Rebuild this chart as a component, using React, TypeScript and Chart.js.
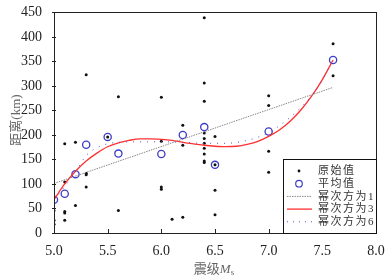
import React, { useEffect, useRef } from "react";
import { Chart, registerables } from "chart.js";

Chart.register(...registerables);

// Raw observations (magnitude, distance km)
const rawM = [5.0, 5.0, 5.0, 5.1, 5.1, 5.1, 5.1, 5.1, 5.2, 5.2, 5.3, 5.3, 5.3, 5.3, 5.5, 5.6, 5.6, 6.0, 6.0, 6.0, 6.0, 6.1, 6.2, 6.2, 6.2, 6.4, 6.4, 6.4, 6.4, 6.4, 6.4, 6.4, 6.4, 6.4, 6.4, 6.5, 6.5, 6.5, 6.5, 7.0, 7.0, 7.0, 7.0, 7.6, 7.6];
const rawD = [46, 26, 18, 182, 104, 44, 41, 26, 185, 56, 323, 122, 119, 94, 196, 278, 46, 277, 187, 94, 89, 28, 220, 179, 32, 439, 306, 269, 204, 193, 183, 173, 161, 147, 144, 197, 139, 87, 37, 280, 260, 167, 124, 386, 321];

// Mean values
const meanM = [5.0, 5.1, 5.2, 5.3, 5.5, 5.6, 6.0, 6.2, 6.4, 6.5, 7.0, 7.6];
const meanD = [68, 80, 120, 180, 196, 162, 161, 200, 216, 139, 207, 353];

// Fit curves
const fit1M = [5.0, 7.6];
const fit1D = [101, 297];

const fit3M = [5.0, 5.1, 5.2, 5.3, 5.4, 5.5, 5.6, 5.7, 5.8, 5.9, 6.0, 6.1, 6.2, 6.3, 6.4, 6.5, 6.6, 6.7, 6.8, 6.9, 7.0, 7.1, 7.2, 7.3, 7.4, 7.5, 7.6];
const fit3D = [68, 100, 126, 147, 163, 176, 184, 189, 192, 192, 191, 189, 185, 182, 179, 177, 176, 177, 181, 187, 197, 210, 228, 251, 279, 313, 353];

const fit6M = [5.0, 5.1, 5.2, 5.3, 5.4, 5.5, 5.6, 5.8, 6.0, 6.2, 6.4, 6.6, 6.8, 7.0, 7.2, 7.4, 7.5, 7.6];
const fit6D = [68, 95, 125, 158, 174, 182, 185, 186, 186, 185, 183, 183, 189, 205, 236, 280, 312, 353];

const xTicks = [5.0, 5.5, 6.0, 6.5, 7.0, 7.5, 8.0];
const yTicks = [0, 50, 100, 150, 200, 250, 300, 350, 400, 450];

const legendLabels = ["原始值", "平均值", "幂次方为1", "幂次方为3", "幂次方为6"];

const pts = (m: number[], d: number[]) => m.map((x, i) => ({ x, y: d[i] }));

const decoPlugin = {
  id: "deco",
  afterDatasetsDraw(chart: any) {
    const { ctx, chartArea: a, scales } = chart;
    const xs = scales.x;
    const ys = scales.y;
    ctx.save();
    ctx.strokeStyle = "#222";
    ctx.lineWidth = 1;
    ctx.strokeRect(Math.round(a.left) + 0.5, Math.round(a.top) + 0.5, Math.round(a.right - a.left), Math.round(a.bottom - a.top));
    ctx.beginPath();
    xTicks.forEach((t) => {
      const px = Math.round(xs.getPixelForValue(t)) + 0.5;
      ctx.moveTo(px, a.bottom);
      ctx.lineTo(px, a.bottom - 4);
    });
    yTicks.forEach((t) => {
      const py = Math.round(ys.getPixelForValue(t)) + 0.5;
      ctx.moveTo(a.left - 2, py);
      ctx.lineTo(a.left + 2, py);
    });
    ctx.stroke();

    // legend box
    const L = 283, T = 159, R = Math.round(a.right), B = Math.round(a.bottom);
    ctx.fillStyle = "#fff";
    ctx.fillRect(L, T, R - L, B - T);
    ctx.strokeStyle = "#111";
    ctx.strokeRect(L + 0.5, T + 0.5, R - L, B - T);
    const rows = [171, 183.7, 196.4, 209.1, 221.8];
    const sx = 299, lx0 = 287, lx1 = 312;
    ctx.fillStyle = "#111";
    ctx.beginPath();
    ctx.arc(sx, rows[0], 1.4, 0, Math.PI * 2);
    ctx.fill();
    ctx.strokeStyle = "#3c3cc8";
    ctx.lineWidth = 1.2;
    ctx.beginPath();
    ctx.arc(sx, rows[1], 3.3, 0, Math.PI * 2);
    ctx.stroke();
    ctx.strokeStyle = "#888";
    ctx.lineWidth = 1;
    ctx.setLineDash([1.5, 1]);
    ctx.beginPath();
    ctx.moveTo(lx0, rows[2]);
    ctx.lineTo(lx1, rows[2]);
    ctx.stroke();
    ctx.setLineDash([]);
    ctx.strokeStyle = "#ff3030";
    ctx.lineWidth = 1.3;
    ctx.beginPath();
    ctx.moveTo(lx0, rows[3]);
    ctx.lineTo(lx1, rows[3]);
    ctx.stroke();
    ctx.strokeStyle = "#5050c8";
    ctx.lineWidth = 1;
    ctx.setLineDash([1, 5]);
    ctx.beginPath();
    ctx.moveTo(lx0, rows[4]);
    ctx.lineTo(lx1, rows[4]);
    ctx.stroke();
    ctx.setLineDash([]);
    ctx.fillStyle = "#333";
    ctx.font = '11px "Liberation Serif", "Noto Sans CJK SC"';
    (ctx as any).letterSpacing = "1.5px";
    ctx.textAlign = "left";
    ctx.textBaseline = "middle";
    legendLabels.forEach((s, i) => ctx.fillText(s, 318, rows[i] + 0.5));
    (ctx as any).letterSpacing = "0px";
    ctx.restore();
  },
  afterDraw(chart: any) {
    const { ctx } = chart;
    ctx.save();
    ctx.fillStyle = "#666";
    ctx.textBaseline = "middle";
    const f1 = '13px "Liberation Serif", "Noto Sans CJK SC"';
    const f2 = 'italic 13px "Liberation Serif"';
    const f3 = '9px "Liberation Serif"';
    ctx.font = f1;
    const w1 = ctx.measureText("震级").width;
    ctx.font = f2;
    const w2 = ctx.measureText("M").width;
    ctx.font = f3;
    const w3 = ctx.measureText("s").width;
    let x = 214 - (w1 + w2 + w3) / 2;
    const y = 270;
    ctx.textAlign = "left";
    ctx.font = f1;
    ctx.fillText("震级", x, y);
    x += w1;
    ctx.font = f2;
    ctx.fillText("M", x, y);
    x += w2;
    ctx.font = f3;
    ctx.fillText("s", x, y + 3);
    ctx.translate(17, 120);
    ctx.rotate(-Math.PI / 2);
    ctx.textAlign = "center";
    ctx.font = f1;
    ctx.fillText("距离(km)", 0, 0);
    ctx.restore();
  },
};

export default function App() {
  const ref = useRef<HTMLCanvasElement | null>(null);
  useEffect(() => {
    if (!ref.current) return;
    const chart = new Chart(ref.current, {
      type: "scatter",
      data: {
        datasets: [
          {
            label: "幂次方为1",
            data: pts(fit1M, fit1D),
            showLine: true,
            borderColor: "#888",
            borderWidth: 1,
            borderDash: [1.5, 1],
            pointRadius: 0,
          },
          {
            label: "幂次方为6",
            data: pts(fit6M, fit6D),
            showLine: true,
            borderColor: "#5050c8",
            borderWidth: 1,
            borderDash: [1, 6],
            pointRadius: 0,
            cubicInterpolationMode: "monotone",
          },
          {
            label: "幂次方为3",
            data: pts(fit3M, fit3D),
            showLine: true,
            borderColor: "#ff3030",
            borderWidth: 1.3,
            pointRadius: 0,
            cubicInterpolationMode: "monotone",
          },
          {
            label: "原始值",
            data: pts(rawM, rawD),
            showLine: false,
            pointRadius: 1.5,
            pointBackgroundColor: "#111",
            pointBorderWidth: 0,
            borderColor: "#111",
          },
          {
            label: "平均值",
            data: pts(meanM, meanD),
            showLine: false,
            pointRadius: 3.6,
            pointBackgroundColor: "rgba(0,0,0,0)",
            pointBorderColor: "#3c3cc8",
            pointBorderWidth: 1.3,
          },
        ],
      } as any,
      options: {
        animation: false,
        responsive: false,
        devicePixelRatio: 1,
        layout: { padding: { top: 7, right: 15, left: 0, bottom: 0 } },
        plugins: { legend: { display: false }, tooltip: { enabled: false } },
        scales: {
          x: {
            type: "linear",
            min: 5,
            max: 8,
            afterFit: (s: any) => {
              s.height = 45;
            },
            afterBuildTicks: (s: any) => {
              s.ticks = xTicks.map((v) => ({ value: v }));
            },
            grid: { display: false },
            border: { display: false },
            ticks: {
              padding: 2,
              color: "#222",
              font: { family: "Liberation Serif", size: 14 },
              callback: (v: any) => Number(v).toFixed(1),
              maxRotation: 0,
            },
          },
          y: {
            type: "linear",
            min: 0,
            max: 450,
            afterFit: (s: any) => {
              s.width = 54;
            },
            afterBuildTicks: (s: any) => {
              s.ticks = yTicks.map((v) => ({ value: v }));
            },
            grid: { display: false },
            border: { display: false },
            ticks: {
              padding: 4,
              color: "#222",
              font: { family: "Liberation Serif", size: 14 },
            },
          },
        },
      } as any,
      plugins: [decoPlugin],
    });
    return () => chart.destroy();
  }, []);
  return (
    <div style={{ position: "fixed", left: 0, top: 0, width: 391, height: 278, background: "#fff" }}>
      <canvas ref={ref} width={391} height={278} style={{ width: 391, height: 278, display: "block" }} />
    </div>
  );
}
